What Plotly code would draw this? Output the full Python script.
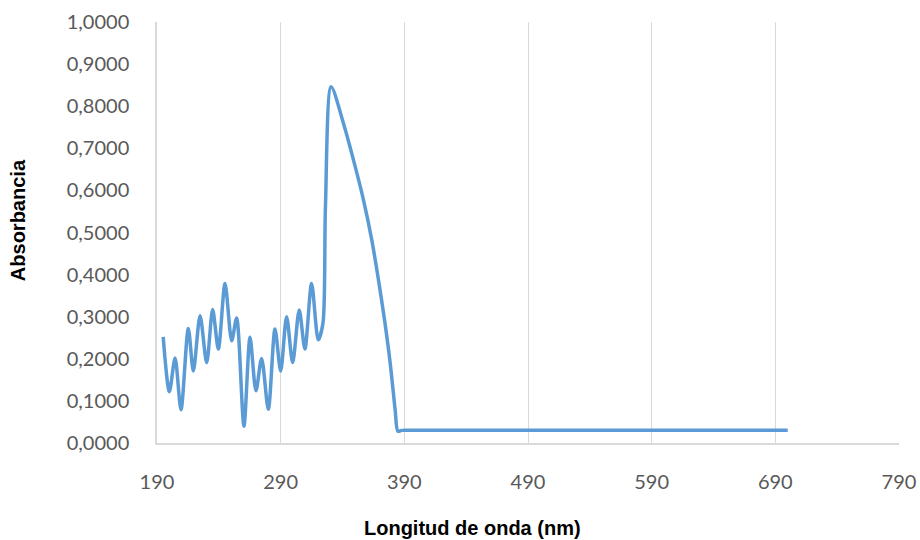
import plotly.graph_objects as go

wavelength = [195, 200, 204.6, 209.4, 215.3, 219.4, 224.8, 230.2, 235, 239.6,
              245, 250.4, 254.4, 260.3, 265.2, 270, 274.6, 280, 285.4, 290,
              294.8, 299.7, 305, 309.6, 315, 320.4, 324.2, 326.2, 330.8,
              340.8, 348.9, 357.0, 363.7, 369.1, 374.0, 378.6, 382.6, 384.8,
              388, 400, 450, 500, 550, 600, 650, 700]
absorbance = [0.252, 0.122, 0.202, 0.079, 0.272, 0.171, 0.302, 0.191, 0.317, 0.223,
              0.379, 0.243, 0.297, 0.040, 0.251, 0.124, 0.201, 0.080, 0.271, 0.171,
              0.300, 0.191, 0.316, 0.223, 0.379, 0.245, 0.285, 0.560, 0.846,
              0.759, 0.672, 0.577, 0.482, 0.387, 0.292, 0.189, 0.078, 0.028,
              0.030, 0.030, 0.030, 0.030, 0.030, 0.030, 0.030, 0.030]

x_ticks = [190, 290, 390, 490, 590, 690, 790]
y_ticks = [0.0, 0.1, 0.2, 0.3, 0.4, 0.5, 0.6, 0.7, 0.8, 0.9, 1.0]

fig = go.Figure()
fig.add_trace(go.Scatter(
    x=wavelength, y=absorbance, mode="lines",
    line=dict(color="#5B9BD5", width=3.5, shape="spline", smoothing=0.8),
    showlegend=False, hoverinfo="skip"))

tickfont = dict(family="Lato, 'Open Sans', sans-serif", size=20, color="#595959")

fig.update_layout(
    width=920, height=540,
    margin=dict(l=157, r=21, t=22, b=97),
    paper_bgcolor="white", plot_bgcolor="white",
    separators=",.",
    xaxis=dict(range=[190, 790], tickvals=x_ticks, showgrid=True,
               gridcolor="#d9d9d9", gridwidth=1, showline=True,
               linecolor="#d9d9d9", linewidth=1.5, zeroline=False,
               ticks="", tickfont=tickfont, ticklabelstandoff=20,
               automargin=False),
    yaxis=dict(range=[0, 1], tickvals=y_ticks, tickformat=".4f",
               showgrid=False, showline=True, linecolor="#d9d9d9",
               linewidth=1.5, zeroline=False, ticks="", tickfont=tickfont,
               ticklabelstandoff=22, automargin=False),
    annotations=[
        dict(text="<b>Longitud de onda (nm)</b>", xref="paper", yref="paper",
             x=(472 - 157) / 742, y=-(528 - 442.7) / 420.7,
             xanchor="center", yanchor="middle", showarrow=False,
             font=dict(family="Liberation Sans, Arial, sans-serif", size=20, color="#000000")),
        dict(text="<b>Absorbancia</b>", xref="paper", yref="paper",
             x=-(157 - 18) / 742, y=(442.7 - 220) / 420.7, textangle=-90,
             xanchor="center", yanchor="middle", showarrow=False,
             font=dict(family="Liberation Sans, Arial, sans-serif", size=20, color="#000000")),
    ],
)

fig.write_html("out.html")
